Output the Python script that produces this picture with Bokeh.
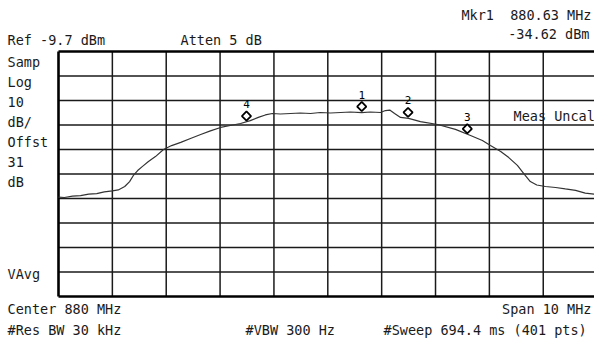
import math
from bokeh.plotting import figure
from bokeh.models import Range1d, ColumnDataSource
from bokeh.core.properties import value
from bokeh.embed import file_html
from bokeh.resources import INLINE

# ---------------- data ----------------
center_mhz = 880.0
span_mhz = 10.0
ref_dbm = -9.7
db_per_div = 10.0
n_div = 10

freq_mhz = [875.00, 875.11, 875.26, 875.41, 875.56, 875.71, 875.85, 876.00, 876.11,
            876.23, 876.32, 876.39, 876.47, 876.56, 876.67, 876.80, 876.95, 877.10,
            877.27, 877.45, 877.64, 877.82, 878.01, 878.19, 878.38, 878.56, 878.71,
            878.84, 878.97, 879.12, 879.31, 879.49, 879.68, 879.86, 880.05, 880.24,
            880.42, 880.63, 880.79, 880.98, 881.07, 881.15, 881.24, 881.35, 881.50,
            881.72, 882.04, 882.37, 882.65, 882.87, 883.02, 883.21, 883.36, 883.52,
            883.65, 883.76, 883.88, 884.04, 884.23, 884.41, 884.60, 884.78, 884.95,
            885.00]
level_dbm = [-69.1, -69.3, -68.7, -68.5, -67.9, -67.7, -67.0, -66.6, -66.2,
             -64.8, -62.8, -60.3, -58.3, -56.6, -54.6, -52.6, -49.7, -48.1,
             -46.8, -45.2, -43.6, -42.1, -40.7, -39.9, -39.1, -37.9, -36.6,
             -35.6, -35.0, -35.2, -35.0, -34.8, -35.0, -34.6, -34.8, -34.6,
             -34.4, -34.62, -34.4, -34.6, -33.8, -33.6, -35.0, -36.6, -37.0,
             -38.3, -39.5, -41.5, -44.0, -46.0, -48.1, -50.5, -53.0, -56.2,
             -59.9, -62.8, -64.2, -64.8, -65.2, -65.8, -66.4, -67.5, -67.9,
             -68.0]

marker_ids = ["4", "1", "2", "3"]
marker_freq = [878.49, 880.63, 881.49, 882.59]
marker_dbm = [-38.5, -34.62, -37.0, -43.7]

# ---------------- layout (pixels) ----------------
W, H = 594, 342
GRID_LEFT, GRID_RIGHT = 58.0, 596.6
GRID_TOP, GRID_BOTTOM = 51.0, 296.0

f_start = center_mhz - span_mhz / 2
f_stop = center_mhz + span_mhz / 2
bottom_dbm = ref_dbm - db_per_div * n_div

px_per_mhz = (GRID_RIGHT - GRID_LEFT) / span_mhz
px_per_db = (GRID_BOTTOM - GRID_TOP) / (db_per_div * n_div)

x0 = f_start - GRID_LEFT / px_per_mhz
x1 = x0 + W / px_per_mhz
y1 = ref_dbm + GRID_TOP / px_per_db
y0 = y1 - H / px_per_db


def px_x(px):
    return x0 + px / px_per_mhz


def px_y(py):
    return y1 - py / px_per_db


p = figure(width=W, height=H, output_backend="svg", toolbar_location=None,
           x_range=Range1d(x0, x1), y_range=Range1d(y0, y1),
           min_border=0, min_border_left=0, min_border_right=0,
           min_border_top=0, min_border_bottom=0)
p.axis.visible = False
p.grid.visible = False
p.outline_line_color = None
p.background_fill_color = "white"
p.border_fill_color = "white"

INK = "#1a1a1a"

# grid
vx = [f_start + i * span_mhz / n_div for i in range(1, n_div)]
p.segment(x0=vx, y0=[ref_dbm] * len(vx), x1=vx, y1=[bottom_dbm] * len(vx),
          line_color=INK, line_width=1.5)
hy = [ref_dbm - j * db_per_div for j in range(1, n_div)]
p.segment(x0=[f_start] * len(hy), y0=hy, x1=[f_stop] * len(hy), y1=hy,
          line_color=INK, line_width=1.5)
# border
p.segment(x0=[f_start, f_start, f_start, f_stop], y0=[ref_dbm, bottom_dbm, ref_dbm, ref_dbm],
          x1=[f_stop, f_stop, f_start, f_stop], y1=[ref_dbm, bottom_dbm, bottom_dbm, bottom_dbm],
          line_color="#000000", line_width=2.6)

# trace
p.line(freq_mhz, level_dbm, line_color="#333333", line_width=1.2)

# markers (diamond sits on the trace)
lift = 6.0 / px_per_db
msrc = ColumnDataSource(dict(x=marker_freq, y=[v + lift for v in marker_dbm], t=marker_ids))
p.scatter("x", "y", source=msrc, marker="square", angle=math.pi / 4, size=6.5,
          fill_color="white", line_color="#000000", line_width=1.8)
p.text("x", "y", text="t", source=msrc, y_offset=-12, text_align="center",
       text_baseline="middle", text_font=value("DejaVu Sans Mono"),
       text_font_size="11px", text_color="#000000")

FONT = value("DejaVu Sans Mono")
FS = "13.5px"
NB = "\u00a0"

left_texts = ["Ref -9.7 dBm", "Atten 5 dB", "Samp", "Log", "10", "dB/", "Offst", "31", "dB",
              "VAvg", "Center 880 MHz", "#Res BW 30 kHz", "#VBW 300 Hz",
              "#Sweep 694.4 ms (401 pts)", "Meas Uncal"]
left_px = [(7, 39.5), (180, 39.5), (7, 61.5), (7, 81), (7, 101), (7, 121), (7, 141),
           (7, 161), (7, 181), (7, 273), (7, 308.5), (7, 329.5), (245, 329.5),
           (383, 329.5), (513, 115.5)]
p.text(x=[px_x(a) for a, b in left_px], y=[px_y(b) for a, b in left_px], text=left_texts,
       text_align="left", text_baseline="middle", text_font=FONT,
       text_font_size=FS, text_color=INK)

right_texts = ["Mkr1" + NB + NB + "880.63 MHz", "-34.62 dBm", "Span 10 MHz"]
right_px = [(591, 14), (589, 33.5), (591, 308.5)]
p.text(x=[px_x(a) for a, b in right_px], y=[px_y(b) for a, b in right_px], text=right_texts,
       text_align="right", text_baseline="middle", text_font=FONT,
       text_font_size=FS, text_color=INK)

open("out.html", "w").write(file_html(p, INLINE))
